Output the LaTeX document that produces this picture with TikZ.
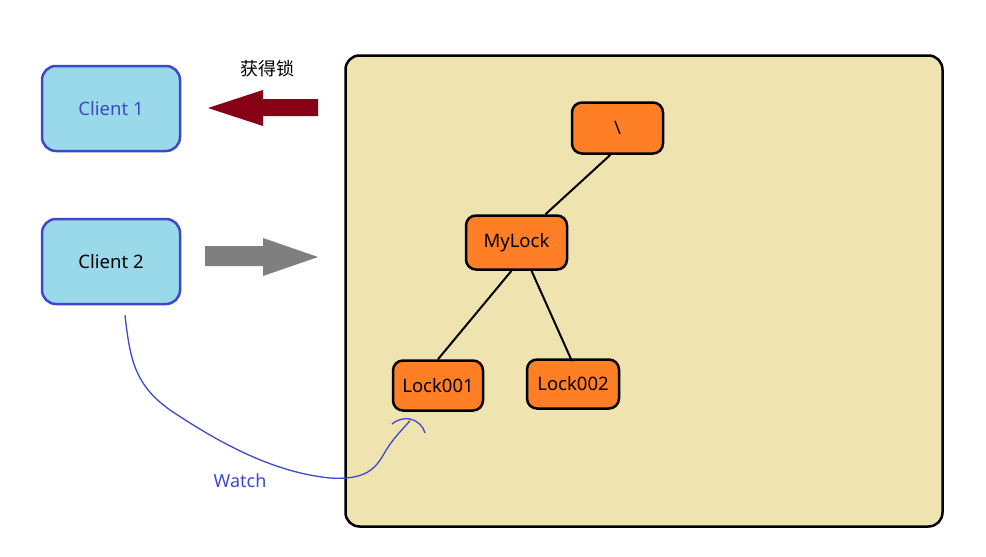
\documentclass[tikz,border=0pt]{standalone}
\usepackage{fontspec}
\setmainfont{Noto Sans}
\newfontfamily\cjk{Noto Sans CJK SC}
\usetikzlibrary{calc}
\definecolor{cblue}{HTML}{3F48CC}
\definecolor{cfill}{HTML}{99D9EA}
\definecolor{cbg}{HTML}{EFE4B0}
\definecolor{corange}{HTML}{FF7F27}
\definecolor{cred}{HTML}{880015}
\definecolor{cgray}{HTML}{7F7F7F}
\begin{document}
\begin{tikzpicture}[x=1pt,y=-1pt,
  client/.style={draw=cblue,line width=2.5pt,fill=cfill,rounded corners=14pt,minimum width=138pt,minimum height=85pt,inner sep=0pt,font=\fontsize{18.5}{22}\selectfont},
  znode/.style={draw=black,line width=2.5pt,fill=corange,rounded corners=10pt,inner sep=0pt,font=\fontsize{18.5}{22}\selectfont},
  edge/.style={line width=2pt,black}]
\useasboundingbox (0,0) rectangle (986,557);
% big box
\node[draw=black,line width=2.5pt,fill=cbg,rounded corners=14pt,minimum width=597pt,minimum height=471pt,inner sep=0pt] (zk) at (644,291) {};
\node[client,text=cblue] (c1) at (111,108.5) {Client 1};
\node[client,text=black] (c2) at (111,261.5) {Client 2};
\node[font=\cjk\fontsize{18}{22}\selectfont] (lbl) at (267,69) {获得锁};
% red arrow (to client 1)
\fill[cred] (318,99) -- (263,99) -- (263,90) -- (208,108) -- (263,126) -- (263,116) -- (318,116) -- cycle;
% gray arrow (to zk)
\fill[cgray] (205,246) -- (263,246) -- (263,238) -- (318,257) -- (263,276) -- (263,266) -- (205,266) -- cycle;
% tree
\node[znode,minimum width=91pt,minimum height=51pt] (root) at (617.5,128) {\textbackslash};
\node[znode,minimum width=101pt,minimum height=54pt] (my) at (516.5,242.5) {MyLock};
\node[znode,minimum width=90pt,minimum height=50pt] (l1) at (438,385.5) {Lock001};
\node[znode,minimum width=92pt,minimum height=49pt] (l2) at (573,384) {Lock002};
\draw[edge] ($(root.south)+(-7,0)$) -- ($(my.north)+(29,0)$);
\draw[edge] ($(my.south)+(-5,0)$) -- ($(l1.north)+(0,0)$);
\draw[edge] ($(my.south)+(15,0)$) -- ($(l2.north)+(-1,3)$);
% watch curve
\coordinate (ws) at ($(c2.south)+(14,10)$);
\coordinate (we) at ($(l1.south)+(-28,9)$);
\draw[cblue,line width=1.3pt] (ws) .. controls (130,360) and (135,385) .. (170,410)
  .. controls (215,440) and (270,472) .. (330,478)
  .. controls (365,480) and (375,470) .. (385,452)
  .. controls (392,440) and (400,432) .. (we);
\draw[cblue,line width=1.3pt] (392,424) .. controls (398,419) and (405,418) .. (410,419) .. controls (418,421) and (423,426) .. (425,433);
\node[text=cblue,font=\fontsize{18}{22}\selectfont] (watch) at (240,481) {Watch};
\end{tikzpicture}
\end{document}
